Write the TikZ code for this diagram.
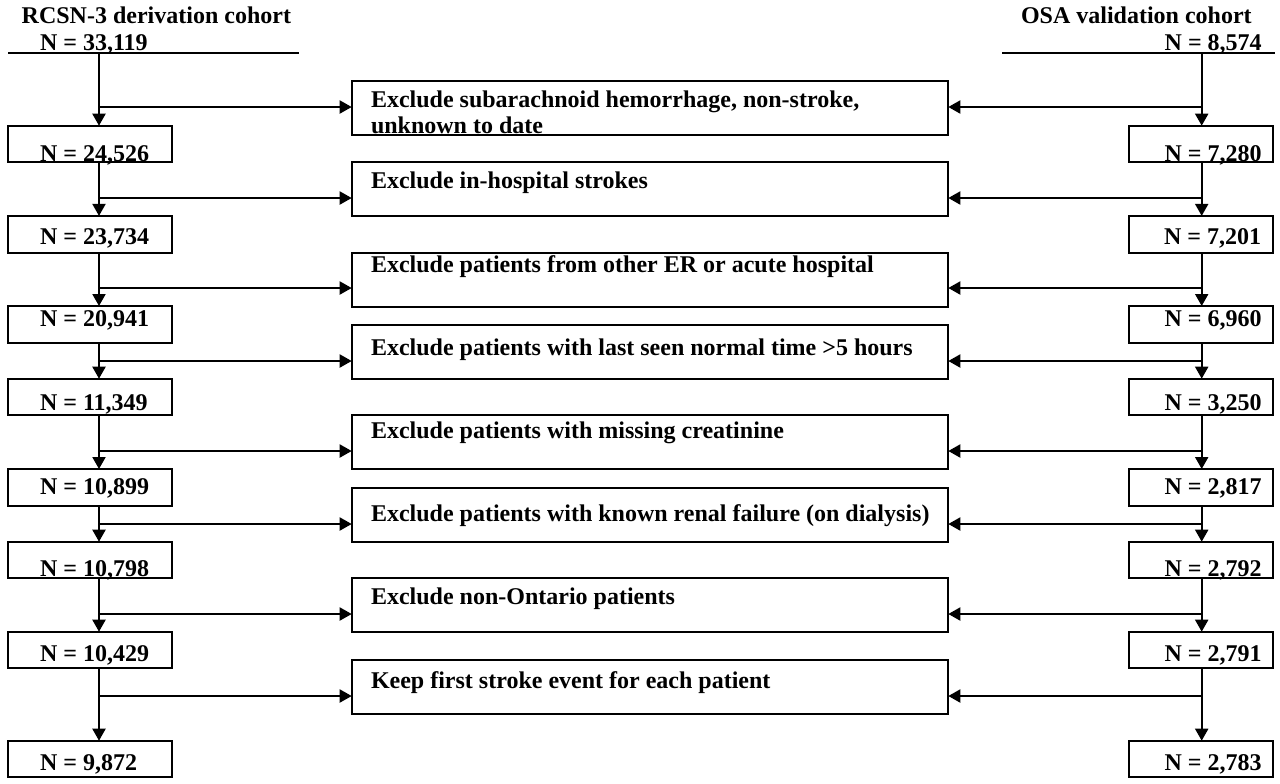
\documentclass[tikz,border=0pt]{standalone}
\usepackage{fontspec}
\setmainfont{Liberation Serif}
\usetikzlibrary{arrows.meta}
\begin{document}
\begin{tikzpicture}[x=0.5pt,y=-0.5pt,
  every node/.style={font=\fontsize{12}{13.85}\selectfont\bfseries, inner sep=0pt, outer sep=0pt},
  lbox/.style={draw, line width=1pt, minimum width=81.7pt, minimum height=18.3pt},
  rbox/.style={draw, line width=1pt, minimum width=72.15pt, minimum height=18.3pt},
  cbox/.style={draw, line width=1pt, minimum width=298.3pt, minimum height=27pt},
  arr/.style={-{Triangle[length=6pt,width=6.5pt]}, line width=1pt},
  ln/.style={line width=1pt},
  ltxt/.style={anchor=base west},
  rtxt/.style={anchor=base east}]
\useasboundingbox (0,0) rectangle (1280,783);

% headers
\node[ltxt] (hL) at (21.7,23) {RCSN-3 derivation cohort};
\node[ltxt] (hLn) at (40,50) {N = 33,119};
\node[rtxt] (hR) at (1251.7,23) {OSA validation cohort};
\node[rtxt] (hRn) at (1261.7,50) {N = 8,574};
\coordinate (hLa) at (8.3,53.3);
\coordinate (hLb) at (299,53.3);
\coordinate (hRa) at (1002,53.3);
\coordinate (hRb) at (1275,53.3);
\draw[ln] (hLa) -- (hLb);
\draw[ln] (hRa) -- (hRb);
\coordinate (vL) at (99,53.3);
\coordinate (vR) at (1201.7,53.3);

% left boxes
\node[lbox] (L1) at (90,144) {};
\node[lbox] (L2) at (90,234.2) {};
\node[lbox] (L3) at (90,324.3) {};
\node[lbox] (L4) at (90,397) {};
\node[lbox] (L5) at (90,487.3) {};
\node[lbox] (L6) at (90,560) {};
\node[lbox] (L7) at (90,650) {};
\node[lbox] (L8) at (90,759) {};
% right boxes
\node[rbox] (R1) at (1201.2,144) {};
\node[rbox] (R2) at (1201.2,234.2) {};
\node[rbox] (R3) at (1201.2,324.3) {};
\node[rbox] (R4) at (1201.2,397) {};
\node[rbox] (R5) at (1201.2,487.3) {};
\node[rbox] (R6) at (1201.2,560) {};
\node[rbox] (R7) at (1201.2,650) {};
\node[rbox] (R8) at (1201.2,759) {};
% box numbers
\node[ltxt] (L1t) at (40,161) {N = 24,526};
\node[ltxt] (L2t) at (40,244) {N = 23,734};
\node[ltxt] (L3t) at (40,326.7) {N = 20,941};
\node[ltxt] (L4t) at (40,410.7) {N = 11,349};
\node[ltxt] (L5t) at (40,494.3) {N = 10,899};
\node[ltxt] (L6t) at (40,576.7) {N = 10,798};
\node[ltxt] (L7t) at (40,661) {N = 10,429};
\node[ltxt] (L8t) at (40,770.5) {N = 9,872};
\node[rtxt] (R1t) at (1261.5,161) {N = 7,280};
\node[rtxt] (R2t) at (1261,244) {N = 7,201};
\node[rtxt] (R3t) at (1261.5,326.7) {N = 6,960};
\node[rtxt] (R4t) at (1261.5,410.7) {N = 3,250};
\node[rtxt] (R5t) at (1261.5,494.3) {N = 2,817};
\node[rtxt] (R6t) at (1261.5,576.7) {N = 2,792};
\node[rtxt] (R7t) at (1261.5,661) {N = 2,791};
\node[rtxt] (R8t) at (1261.5,770.5) {N = 2,783};

% centre boxes
\node[cbox] (C1) at (650,108) {};
\node[cbox] (C2) at (650,189) {};
\node[cbox] (C3) at (650,279.5) {};
\node[cbox] (C4) at (650,351.5) {};
\node[cbox] (C5) at (650,442) {};
\node[cbox] (C6) at (650,515) {};
\node[cbox] (C7) at (650,605) {};
\node[cbox] (C8) at (650,687) {};
\node[ltxt] (C1t) at (371,107.2) {Exclude subarachnoid hemorrhage, non-stroke,};
\node[ltxt] (C1u) at (371,133.3) {unknown to date};
\node[ltxt] (C2t) at (371,188.7) {Exclude in-hospital strokes};
\node[ltxt] (C3t) at (371,272) {Exclude patients from other ER or acute hospital};
\node[ltxt] (C4t) at (371,355.5) {Exclude patients with last seen normal time >5 hours};
\node[ltxt] (C5t) at (371,438.5) {Exclude patients with missing creatinine};
\node[ltxt] (C6t) at (371,521.5) {Exclude patients with known renal failure (on dialysis)};
\node[ltxt] (C7t) at (371,604.8) {Exclude non-Ontario patients};
\node[ltxt] (C8t) at (371,688) {Keep first stroke event for each patient};

% vertical flow, left
\draw[arr] (vL) -- (L1.north -| vL);
\draw[arr] (L1.south -| vL) -- (L2.north -| vL);
\draw[arr] (L2.south -| vL) -- (L3.north -| vL);
\draw[arr] (L3.south -| vL) -- (L4.north -| vL);
\draw[arr] (L4.south -| vL) -- (L5.north -| vL);
\draw[arr] (L5.south -| vL) -- (L6.north -| vL);
\draw[arr] (L6.south -| vL) -- (L7.north -| vL);
\draw[arr] (L7.south -| vL) -- (L8.north -| vL);
% vertical flow, right
\draw[arr] (vR) -- (R1.north -| vR);
\draw[arr] (R1.south -| vR) -- (R2.north -| vR);
\draw[arr] (R2.south -| vR) -- (R3.north -| vR);
\draw[arr] (R3.south -| vR) -- (R4.north -| vR);
\draw[arr] (R4.south -| vR) -- (R5.north -| vR);
\draw[arr] (R5.south -| vR) -- (R6.north -| vR);
\draw[arr] (R6.south -| vR) -- (R7.north -| vR);
\draw[arr] (R7.south -| vR) -- (R8.north -| vR);

% branches
\foreach \i/\yy in {1/107,2/198,3/288,4/361,5/451,6/524,7/614,8/696}{
  \coordinate (bl\i) at (99,\yy);
  \coordinate (br\i) at (1201.7,\yy);
  \draw[arr] (bl\i) -- (bl\i -| C\i.west);
  \draw[arr] (br\i) -- (br\i -| C\i.east);
}
\end{tikzpicture}
\end{document}
